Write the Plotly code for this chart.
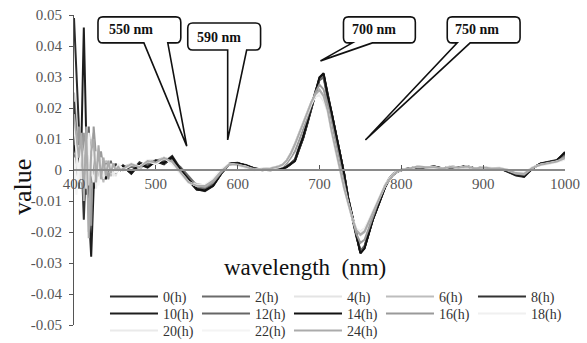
import plotly.graph_objects as go

wavelength = [400,403,406,409,412,415,418,421,424,427,430,433,436,439,442,445,448,451,454,457,
              460,470,480,490,500,510,520,530,540,550,560,570,580,590,600,610,620,630,640,650,
              655,660,665,670,675,680,685,690,695,700,705,710,715,720,725,730,735,740,745,750,
              755,760,765,770,775,780,785,790,795,800,
              810,820,830,840,850,860,870,880,890,900,910,920,930,940,950,960,970,980,990,1000]

series_names = ["0(h)","2(h)","4(h)","6(h)","8(h)","10(h)","12(h)","14(h)","16(h)","18(h)","20(h)","22(h)","24(h)"]
series_colors = ["#2b2b2b","#6b6b6b","#e4e4e4","#bdbdbd","#333333","#1e1e1e","#666666","#111111","#9a9a9a","#f0f0f0","#eaeaea","#f4f4f4","#ababab"]

h0 = [0.049,0.030,0.012,-0.004,0.003,-0.008,0.005,-0.003,0.004,-0.002,0.003,-0.001,0.002,-0.002,0.001,0.000,0.002,-0.001,0.001,0.000,
      0.001,-0.001,0.002,0.001,0.003,0.002,0.004,0.000,-0.003,-0.006,-0.0065,-0.005,-0.001,0.002,0.0022,0.0015,0.0005,0.000,0.000,0.0003,
      0.0005,0.001,0.002,0.003,0.007,0.0105,0.015,0.020,0.025,0.0295,0.0305,0.0235,0.018,0.0115,0.005,-0.001,-0.009,-0.015,-0.021,-0.0265,
      -0.025,-0.0205,-0.016,-0.0125,-0.009,-0.0055,-0.003,-0.0015,-0.0005,0.000,
      0.0005,0.001,0.0008,0.001,0.0005,0.001,0.0008,0.0012,0.0005,0.0008,0.0005,0.0006,-0.0004,-0.0015,-0.002,0.0005,0.002,0.0025,0.003,0.005]
h2 = [0.010,0.004,-0.006,0.008,-0.004,0.012,-0.010,0.006,-0.003,0.005,-0.002,0.004,-0.003,0.002,0.000,0.003,-0.001,0.002,0.000,0.001,
      0.000,0.001,0.001,0.002,0.002,0.003,0.003,0.001,-0.002,-0.005,-0.006,-0.0045,-0.0005,0.0018,0.002,0.0012,0.0006,0.0002,0.0001,0.0004,
      0.0008,0.0012,0.0022,0.0035,0.0075,0.011,0.0155,0.0205,0.0255,0.029,0.0298,0.023,0.0175,0.011,0.0045,-0.0015,-0.0095,-0.0155,-0.0215,-0.026,
      -0.0245,-0.020,-0.0155,-0.012,-0.0085,-0.005,-0.0028,-0.0012,-0.0004,0.0001,
      0.0006,0.0009,0.0007,0.0011,0.0006,0.0009,0.0007,0.001,0.0006,0.0007,0.0004,0.0005,-0.0002,-0.0012,-0.0016,0.0006,0.0018,0.0024,0.0028,0.0042]
h4 = [0.022,0.012,0.003,0.014,-0.003,0.006,-0.012,0.010,0.002,-0.004,0.007,-0.002,0.004,-0.003,0.003,0.000,0.002,-0.002,0.001,0.000,
      0.000,0.002,0.001,0.003,0.002,0.004,0.002,-0.001,-0.004,-0.005,-0.005,-0.003,0.000,0.002,0.0015,0.001,0.000,0.0003,0.0005,0.001,
      0.0015,0.003,0.005,0.008,0.0115,0.015,0.0185,0.0215,0.024,0.0255,0.0235,0.019,0.012,0.0055,0.000,-0.006,-0.011,-0.0155,-0.019,-0.0205,
      -0.0195,-0.0165,-0.0135,-0.0105,-0.0075,-0.005,-0.003,-0.0015,-0.0005,0.000,
      0.0004,0.0012,0.0009,0.0008,0.0004,0.0011,0.0006,0.0012,0.0004,0.0009,0.0006,0.0007,0.0000,-0.0008,-0.001,0.0008,0.0016,0.002,0.0026,0.0035]
h6 = [0.025,0.015,0.005,0.010,-0.006,0.013,-0.020,0.008,0.012,-0.003,0.006,0.000,-0.004,0.003,0.001,-0.002,0.002,0.000,0.001,0.001,
      0.001,0.002,0.000,0.003,0.003,0.004,0.003,0.000,-0.0035,-0.0045,-0.005,-0.0035,-0.0005,0.0018,0.0016,0.0008,0.0002,0.0004,0.0006,0.0012,
      0.0018,0.0032,0.0055,0.0085,0.012,0.0155,0.019,0.022,0.0245,0.026,0.024,0.0195,0.0125,0.006,0.0005,-0.0055,-0.0108,-0.0155,-0.0195,-0.021,
      -0.020,-0.017,-0.014,-0.011,-0.008,-0.0052,-0.0032,-0.0016,-0.0006,0.0001,
      0.0005,0.0011,0.0008,0.0009,0.0005,0.001,0.0007,0.0011,0.0005,0.0008,0.0005,0.0006,0.0001,-0.0009,-0.0012,0.0007,0.0017,0.0022,0.0027,0.004]
h8 = [0.022,0.008,-0.002,0.006,-0.016,0.004,0.009,-0.004,0.002,0.005,-0.001,0.002,-0.003,0.001,0.002,0.000,-0.001,0.002,0.000,0.000,
      0.0015,-0.0005,0.0025,0.0012,0.0032,0.0025,0.0045,0.0005,-0.0032,-0.0062,-0.0068,-0.0052,-0.0012,0.0021,0.0023,0.0014,0.0004,-0.0001,0.0001,0.0004,
      0.0006,0.0011,0.0021,0.0032,0.0068,0.0103,0.0152,0.0202,0.0252,0.0298,0.031,0.024,0.0182,0.0118,0.0052,-0.0012,-0.0092,-0.0152,-0.0215,-0.0268,
      -0.0252,-0.0208,-0.0162,-0.0127,-0.0092,-0.0057,-0.0031,-0.0016,-0.0005,0.0000,
      0.0004,0.0011,0.0007,0.0012,0.0004,0.0011,0.0009,0.0013,0.0004,0.0009,0.0004,0.0005,-0.0006,-0.0018,-0.0022,0.0004,0.0021,0.0026,0.0032,0.0055]
h10 = [0.012,0.006,0.002,0.008,0.046,0.010,-0.012,-0.028,-0.006,0.004,-0.002,0.003,0.000,-0.002,0.002,0.001,-0.001,0.001,0.000,0.001,
       0.0012,-0.0012,0.0018,0.0008,0.0028,0.0018,0.0042,-0.0002,-0.0034,-0.0064,-0.0066,-0.0048,-0.0008,0.0019,0.0021,0.0016,0.0006,0.0001,-0.0001,0.0002,
       0.0004,0.0009,0.0019,0.0029,0.0066,0.0102,0.0148,0.0198,0.0248,0.0294,0.0308,0.0238,0.0181,0.0116,0.0051,-0.0011,-0.0091,-0.0151,-0.0212,-0.0266,
       -0.0251,-0.0206,-0.0161,-0.0126,-0.0091,-0.0056,-0.0031,-0.0015,-0.0006,-0.0001,
       0.0005,0.0009,0.0009,0.001,0.0006,0.0009,0.0008,0.0011,0.0006,0.0008,0.0006,0.0006,-0.0005,-0.0016,-0.0021,0.0006,0.0019,0.0025,0.0031,0.0052]
h12 = [0.005,0.002,0.010,-0.003,0.006,-0.006,0.014,-0.004,0.003,-0.002,0.004,0.001,-0.002,0.002,0.000,0.001,-0.001,0.001,0.001,0.000,
       0.0008,-0.0008,0.0022,0.0011,0.0031,0.0021,0.0038,0.0002,-0.0028,-0.0058,-0.0062,-0.0049,-0.0011,0.0019,0.0021,0.0014,0.0005,0.0001,0.0000,0.0003,
       0.0005,0.001,0.002,0.0031,0.0066,0.0104,0.0151,0.0201,0.0251,0.0292,0.0302,0.0234,0.0179,0.0114,0.0049,-0.0011,-0.0089,-0.0149,-0.0209,-0.0262,
       -0.0248,-0.0204,-0.0159,-0.0124,-0.0089,-0.0054,-0.0029,-0.0014,-0.0004,0.0001,
       0.0006,0.001,0.0008,0.0011,0.0005,0.001,0.0008,0.0012,0.0005,0.0008,0.0005,0.0006,-0.0004,-0.0014,-0.0019,0.0005,0.002,0.0024,0.003,0.0048]
h14 = [0.008,0.004,-0.002,0.005,0.002,-0.004,0.006,0.002,-0.006,0.003,-0.001,0.002,0.000,-0.003,0.001,0.002,0.000,-0.001,0.001,0.001,
       0.0011,-0.0009,0.0021,0.0009,0.0029,0.0022,0.0041,0.0001,-0.0031,-0.0061,-0.0066,-0.0051,-0.0011,0.002,0.0022,0.0015,0.0005,0.0000,0.0000,0.0003,
       0.0005,0.001,0.002,0.003,0.0069,0.0106,0.0153,0.0203,0.0253,0.0299,0.0312,0.0239,0.0183,0.0117,0.0051,-0.0011,-0.0091,-0.0151,-0.0214,-0.0269,
       -0.0253,-0.0207,-0.0161,-0.0126,-0.0091,-0.0056,-0.003,-0.0015,-0.0005,0.0000,
       0.0005,0.001,0.0008,0.001,0.0005,0.001,0.0008,0.0012,0.0005,0.0008,0.0005,0.0006,-0.0004,-0.0015,-0.002,0.0005,0.002,0.0025,0.003,0.0058]
h16 = [0.002,0.006,0.014,-0.004,0.012,-0.002,0.008,-0.018,0.014,0.004,-0.002,0.006,0.000,0.002,-0.003,0.002,0.001,0.000,0.001,0.000,
       0.0005,0.0015,0.0012,0.0025,0.0022,0.0035,0.0028,-0.0005,-0.0038,-0.0052,-0.0055,-0.004,-0.0008,0.0019,0.0018,0.0011,0.0003,0.0002,0.0004,0.0008,
       0.0012,0.0022,0.004,0.006,0.0095,0.013,0.017,0.021,0.025,0.0275,0.026,0.021,0.0145,0.008,0.002,-0.004,-0.0105,-0.0155,-0.0205,-0.0235,
       -0.0225,-0.019,-0.015,-0.0115,-0.0082,-0.0053,-0.003,-0.0015,-0.0005,0.0000,
       0.0005,0.001,0.0008,0.001,0.0005,0.001,0.0007,0.0011,0.0005,0.0008,0.0005,0.0006,-0.0002,-0.0012,-0.0015,0.0006,0.0018,0.0023,0.0028,0.0042]
h18 = [0.015,0.004,-0.004,0.008,0.002,-0.006,0.010,0.000,-0.004,0.006,0.000,0.003,-0.002,0.001,0.002,-0.001,0.001,0.000,0.002,0.001,
       0.0002,0.0022,0.0008,0.0032,0.0018,0.0042,0.0018,-0.0012,-0.0042,-0.0048,-0.0048,-0.0028,0.0002,0.0021,0.0014,0.0009,0.0001,0.0004,0.0006,0.0011,
       0.0016,0.0031,0.0052,0.0082,0.0118,0.0152,0.0186,0.0216,0.0242,0.025,0.023,0.0188,0.0118,0.0054,-0.0001,-0.0061,-0.0111,-0.0156,-0.0191,-0.0202,
       -0.0192,-0.0166,-0.0136,-0.0106,-0.0076,-0.0051,-0.0031,-0.0015,-0.0005,0.0000,
       0.0003,0.0013,0.0008,0.0007,0.0005,0.0012,0.0005,0.0013,0.0003,0.001,0.0005,0.0008,0.0001,-0.0007,-0.0009,0.0009,0.0015,0.0021,0.0025,0.0033]
h20 = [-0.006,0.003,0.008,-0.004,0.005,0.010,-0.005,0.004,0.008,-0.006,0.002,0.004,-0.003,0.001,0.000,0.002,-0.002,0.001,0.000,0.001,
       -0.0002,0.0018,0.0012,0.0028,0.0022,0.0038,0.0022,-0.0008,-0.0038,-0.0052,-0.0052,-0.0032,-0.0002,0.0019,0.0016,0.0011,-0.0001,0.0002,0.0004,0.0009,
       0.0014,0.0029,0.0049,0.0079,0.0113,0.0148,0.0183,0.0212,0.0236,0.0242,0.0222,0.0188,0.0119,0.0055,0.0001,-0.0059,-0.0109,-0.0154,-0.0189,-0.0198,
       -0.0188,-0.0164,-0.0134,-0.0104,-0.0074,-0.0049,-0.0029,-0.0014,-0.0004,0.0001,
       0.0005,0.0011,0.001,0.0009,0.0003,0.0011,0.0007,0.0011,0.0005,0.0009,0.0007,0.0006,0.0001,-0.0009,-0.0011,0.0007,0.0017,0.0019,0.0027,0.0036]
h22 = [0.004,-0.008,0.002,0.006,-0.002,0.004,0.012,-0.002,0.006,0.000,-0.005,0.002,0.003,-0.001,0.002,0.000,0.001,-0.001,0.000,0.001,
       0.0001,0.0021,0.0011,0.0031,0.0019,0.0041,0.0021,-0.0011,-0.0041,-0.0049,-0.0049,-0.0029,0.0001,0.002,0.0015,0.001,0.0000,0.0003,0.0005,0.001,
       0.0015,0.003,0.0051,0.0081,0.0116,0.0151,0.0185,0.0215,0.024,0.0248,0.0228,0.0191,0.0121,0.0056,0.0000,-0.006,-0.011,-0.0155,-0.019,-0.0201,
       -0.0191,-0.0165,-0.0135,-0.0105,-0.0075,-0.005,-0.003,-0.0015,-0.0005,0.0000,
       0.0004,0.0012,0.0009,0.0008,0.0004,0.0011,0.0006,0.0012,0.0004,0.0009,0.0006,0.0007,0.0000,-0.0008,-0.001,0.0008,0.0016,0.002,0.0026,0.0034]
h24 = [0.018,0.010,0.004,0.012,-0.010,0.014,-0.022,0.006,0.010,-0.004,0.008,-0.003,0.004,-0.002,0.003,-0.001,0.002,0.000,0.001,0.000,
       0.0004,0.0019,0.0009,0.0029,0.0024,0.0039,0.0026,-0.0006,-0.0039,-0.0051,-0.0052,-0.0034,-0.0004,0.0019,0.0017,0.001,0.0002,0.0003,0.0005,0.0011,
       0.0017,0.0031,0.0053,0.0083,0.0118,0.0153,0.0188,0.0218,0.0244,0.0258,0.0238,0.0193,0.0123,0.0058,0.0003,-0.0057,-0.0108,-0.0155,-0.0194,-0.0208,
       -0.0198,-0.0168,-0.0138,-0.0108,-0.0078,-0.0051,-0.0031,-0.0016,-0.0005,0.0000,
       0.0005,0.0011,0.0009,0.0009,0.0005,0.001,0.0007,0.0011,0.0005,0.0008,0.0005,0.0006,0.0000,-0.001,-0.0012,0.0007,0.0017,0.0021,0.0027,0.0038]

series_values = [h0, h2, h4, h6, h8, h10, h12, h14, h16, h18, h20, h22, h24]

x_ticks = [400, 500, 600, 700, 800, 900, 1000]
y_ticks = [0.05, 0.04, 0.03, 0.02, 0.01, 0, -0.01, -0.02, -0.03, -0.04, -0.05]
y_tick_labels = ["0.05", "0.04", "0.03", "0.02", "0.01", "0", "-0.01", "-0.02", "-0.03", "-0.04", "-0.05"]

callout_labels = ["550 nm", "590 nm", "700 nm", "750 nm"]

SERIF = "Liberation Serif"

# legend rows: five entries per row, three rows
legend_ids = ["legend"] * 5 + ["legend2"] * 5 + ["legend3"] * 3

fig = go.Figure()
for name, color, vals, lg in zip(series_names, series_colors, series_values, legend_ids):
    fig.add_trace(go.Scatter(x=wavelength, y=vals, mode="lines", name=name, legend=lg,
                             line=dict(color=color, width=2), hoverinfo="skip"))

# callout geometry (layout, in axis units): box L,R,T,B ; wedge base a,b ; tip tx,ty ; text x,y
callout_geom = [
    dict(L=429.3, R=530.5, T=0.0494, B=0.0410, a=485.4, b=514.6, tx=537.8, ty=0.0077, lx=469.5, ly=0.0452),
    dict(L=539.0, R=628.0, T=0.0474, B=0.0387, a=587.8, b=611.0, tx=587.8, ty=0.0097, lx=576.8, ly=0.0429),
    dict(L=729.3, R=817.1, T=0.0494, B=0.0410, a=740.2, b=764.6, tx=701.2, ty=0.0352, lx=767.1, ly=0.0452),
    dict(L=856.1, R=945.1, T=0.0494, B=0.0410, a=868.3, b=884.1, tx=756.1, ty=0.0097, lx=892.7, ly=0.0452),
]
rx, ry = 6.0, 0.0017
shapes = []
annotations = []
for lab, g in zip(callout_labels, callout_geom):
    L, R, T, B = g["L"], g["R"], g["T"], g["B"]
    p = (f"M{L+rx},{T} L{R-rx},{T} Q{R},{T} {R},{T-ry} L{R},{B+ry} Q{R},{B} {R-rx},{B} "
         f"L{g['b']},{B} L{g['tx']},{g['ty']} L{g['a']},{B} L{L+rx},{B} Q{L},{B} {L},{B+ry} "
         f"L{L},{T-ry} Q{L},{T} {L+rx},{T} Z")
    shapes.append(dict(type="path", path=p, xref="x", yref="y",
                       line=dict(color="#111111", width=1.6), fillcolor="white", layer="above"))
    annotations.append(dict(x=g["lx"], y=g["ly"], xref="x", yref="y", text=f"<b>{lab}</b>",
                            xanchor="center", yanchor="middle",
                            showarrow=False, font=dict(family=SERIF, size=14, color="#111111")))

annotations.append(dict(x=-0.106, y=0.445, xref="paper", yref="paper", text="value", textangle=-90,
                        xanchor="center", yanchor="middle",
                        showarrow=False, font=dict(family=SERIF, size=26, color="#111111")))
annotations.append(dict(x=0.471, y=0.184, xref="paper", yref="paper", text="wavelength&nbsp;&nbsp;(nm)",
                        xanchor="center", yanchor="middle",
                        showarrow=False, font=dict(family=SERIF, size=23, color="#111111")))

legend_style = dict(orientation="h", x=0.0631, xanchor="left", yanchor="middle",
                    itemwidth=48, entrywidth=29, entrywidthmode="pixels", bgcolor="rgba(0,0,0,0)",
                    font=dict(family=SERIF, size=14, color="#333333"))

fig.update_layout(
    width=587, height=343,
    margin=dict(l=74, r=22, t=15, b=18, autoexpand=False),
    paper_bgcolor="white", plot_bgcolor="white",
    font=dict(family=SERIF),
    showlegend=True,
    legend=dict(y=0.0903, **legend_style),
    legend2=dict(y=0.0355, **legend_style),
    legend3=dict(y=-0.0194, **legend_style),
    shapes=shapes, annotations=annotations,
)
fig.update_xaxes(range=[400, 1000], tickvals=x_ticks, ticktext=[str(v) for v in x_ticks],
                 anchor="free", position=0.5, showline=True, linecolor="#8a8a8a", linewidth=1.5,
                 ticks="inside", ticklen=4, tickcolor="#555555", showgrid=False, zeroline=False,
                 tickfont=dict(family=SERIF, size=15, color="#555555"))
fig.update_yaxes(range=[-0.05, 0.05], tickvals=y_ticks, ticktext=y_tick_labels,
                 showline=True, linecolor="#555555", linewidth=1, ticks="outside", ticklen=4,
                 tickcolor="#555555", showgrid=False, zeroline=False, ticklabelstandoff=4,
                 tickfont=dict(family=SERIF, size=15, color="#555555"))

fig.write_html("out.html")
